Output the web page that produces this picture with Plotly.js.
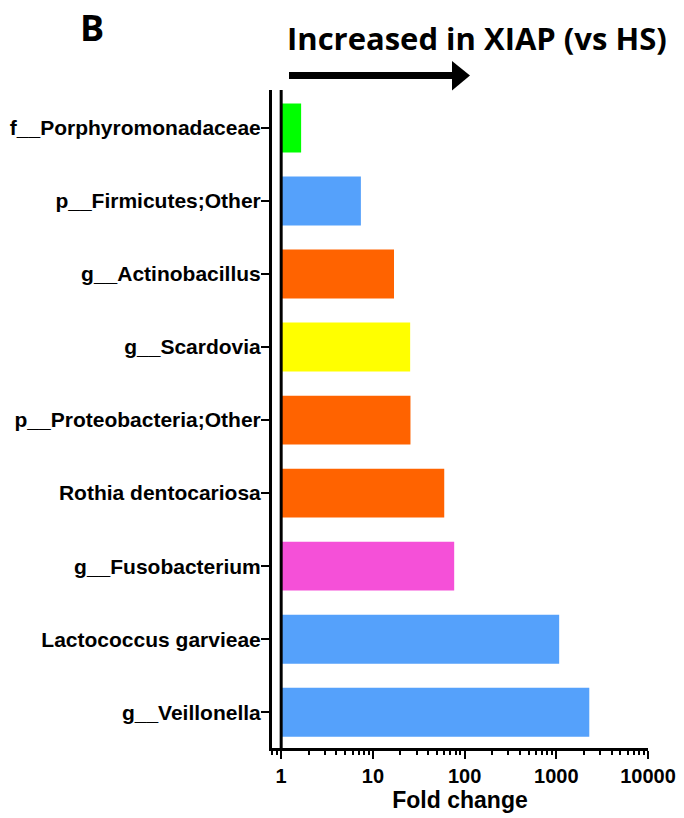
<!DOCTYPE html>
<html><head><meta charset="utf-8">
<script src="https://cdn.plot.ly/plotly-3.0.1.min.js"></script>
<style>body{margin:0;background:#fff}#chart{width:684px;height:818px}</style>
</head><body><div id="chart"></div>
<script>
const categories = ["f__Porphyromonadaceae","p__Firmicutes;Other","g__Actinobacillus","g__Scardovia","p__Proteobacteria;Other","Rothia dentocariosa","g__Fusobacterium","Lactococcus garvieae","g__Veillonella"];
const foldChange = [1.65, 7.4, 17, 25.5, 25.7, 60, 77, 1075, 2290];
const barColors = ["#00FF00","#55A1FB","#FF6300","#FFFF00","#FF6300","#FF6300","#F550D8","#55A1FB","#55A1FB"];
const tickVals = [1, 10, 100, 1000, 10000];
const tickText = ["1","10","100","1000","10000"];
const baseline = 1;

const font = "Liberation Sans, Arial, sans-serif";
const trace = {
  type: "bar", orientation: "h",
  y: categories,
  x: foldChange.map(v => v - baseline),
  base: baseline,
  customdata: foldChange,
  marker: {color: barColors, line: {width: 0}},
  width: 0.67
};

const L = 272, R = 36, T = 90, B = 70, W = 684, H = 818;
const pw = W - L - R, ph = H - T - B;
const px = v => (v - L) / pw;
const py = v => (H - B - v) / ph;

const layout = {
  width: W, height: H,
  margin: {l: L, r: R, t: T, b: B},
  paper_bgcolor: "#fff", plot_bgcolor: "#fff",
  showlegend: false,
  font: {family: font, color: "#000"},
  xaxis: {
    type: "log", range: [-0.1, 4],
    tickvals: tickVals, ticktext: tickText,
    ticks: "outside", ticklen: 8, tickwidth: 2, tickcolor: "#000",
    minor: {ticks: "outside", ticklen: 4, tickwidth: 2, tickcolor: "#000", dtick: "D1", showgrid: false},
    showline: true, linewidth: 3, linecolor: "#000",
    showgrid: false, zeroline: false,
    tickfont: {family: font, size: 20, color: "#000", weight: "bold"},
    title: {text: "<b>Fold change</b>", font: {family: font, size: 23, color: "#000"}, standoff: 3}
  },
  yaxis: {
    type: "category", autorange: false, range: [8.49, -0.52],
    ticks: "outside", ticklen: 8, tickwidth: 2, tickcolor: "#000",
    ticklabelstandoff: -4,
    showline: true, linewidth: 3, linecolor: "#000",
    showgrid: false, zeroline: false,
    tickfont: {family: font, size: 21, color: "#000", weight: "bold"}
  },
  shapes: [
    {type: "line", xref: "x", yref: "paper", x0: 1, x1: 1, y0: 0, y1: 1, line: {color: "#000", width: 3}},
    {type: "line", xref: "paper", yref: "paper", x0: px(289), x1: px(454), y0: py(75.5), y1: py(75.5), line: {color: "#000", width: 7}},
    {type: "path", xref: "paper", yref: "paper", fillcolor: "#000", line: {width: 0},
     path: `M ${px(452)} ${py(61)} L ${px(470)} ${py(75.5)} L ${px(452)} ${py(90.5)} Z`}
  ],
  annotations: [
    {text: "<b>B</b>", xref: "paper", yref: "paper", x: px(78), y: py(27), xanchor: "left", yanchor: "middle", showarrow: false, font: {family: "Open Sans, sans-serif", size: 36, color: "#000"}},
    {text: "<b>Increased in XIAP (vs HS)</b>", xref: "paper", yref: "paper", x: px(669), y: py(38), xanchor: "right", yanchor: "middle", showarrow: false, font: {family: "Open Sans, sans-serif", size: 31, color: "#000"}}
  ]
};
Plotly.newPlot("chart", [trace], layout, {displayModeBar: false, staticPlot: true});
</script></body></html>
